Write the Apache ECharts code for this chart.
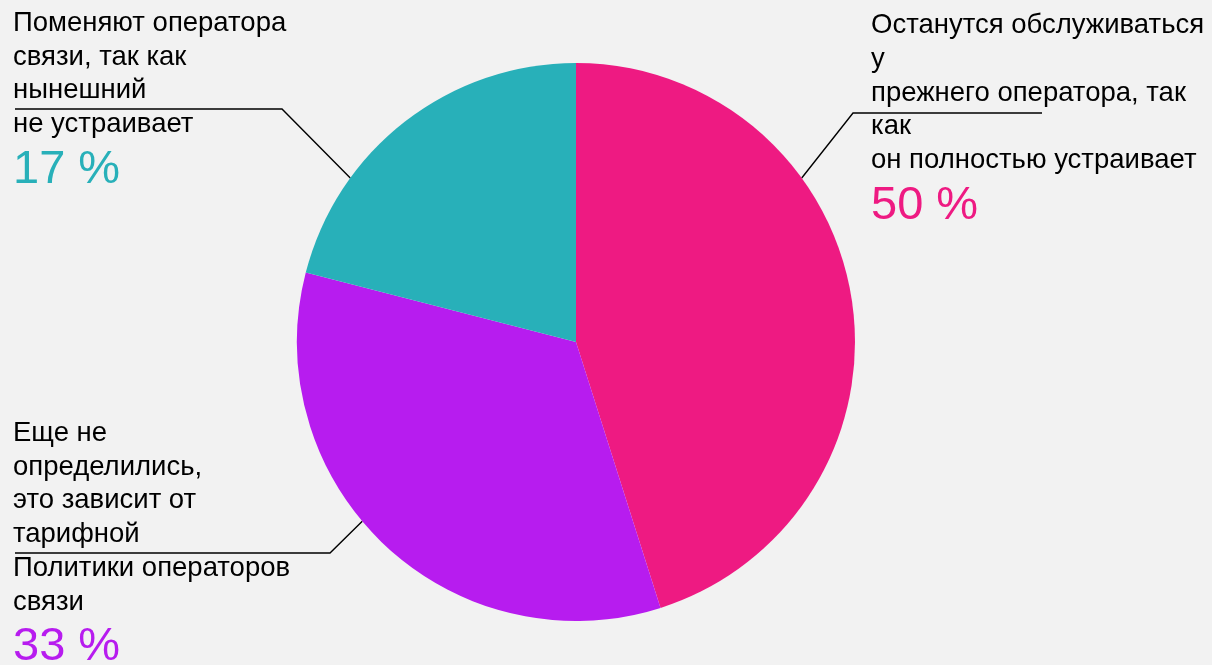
<!DOCTYPE html>
<html>
<head>
<meta charset="utf-8">
<script src="https://cdn.jsdelivr.net/npm/echarts@6/dist/echarts.min.js"></script>
<style>
  html, body { margin: 0; padding: 0; background: #f2f2f2; }
  #chart { width: 1212px; height: 665px; }
</style>
</head>
<body>
<div id="chart"></div>
<script>
// ---- data ----
const categories = [
  'Останутся обслуживаться\nу\nпрежнего оператора, так\nкак\nон полностью устраивает',
  'Еще не\nопределились,\nэто зависит от\nтарифной\nПолитики операторов\nсвязи',
  'Поменяют оператора\nсвязи, так как\nнынешний\nне устраивает'
];
const sliceShares = [45.1, 33.9, 21.0];          // visual size of each slice
const percentLabels = ['50 %', '33 %', '17 %'];   // printed percentages
const sliceColors = ['#ee1a82', '#b71cef', '#28b0b9'];

// ---- label placement (layout, not data) ----
const textPos = [
  { x: 871, y: 8.6 },
  { x: 13, y: 416.3 },
  { x: 13, y: 6.3 }
];
// horizontal leader segment: end x, start x, y, and angle (deg, clockwise from top) where it meets the pie
const leader = [
  { xEnd: 1042, xTurn: 853, y: 113, attach: 54 },
  { xEnd: 15, xTurn: 330, y: 553, attach: 230 },
  { xEnd: 15, xTurn: 282, y: 109, attach: 306 }
];

const FONT = '"Liberation Sans", Arial, sans-serif';
const center = [576, 342];
const radius = 279;

const chart = echarts.init(document.getElementById('chart'), null, { renderer: 'canvas' });

const pieData = categories.map((name, i) => ({
  name: name,
  value: sliceShares[i],
  itemStyle: { color: sliceColors[i] }
}));

const textData = categories.map((name, i) => ({
  name: name,
  value: sliceShares[i],
  label: {
    formatter: '{t|' + name + '}\n{p|' + percentLabels[i] + '}',
    rich: {
      t: { fontFamily: FONT, fontSize: 27.5, lineHeight: 33.75, color: '#000', align: 'left' },
      p: { fontFamily: FONT, fontSize: 47, lineHeight: 56.6, color: sliceColors[i], align: 'left' }
    }
  }
}));

chart.setOption({
  backgroundColor: '#f2f2f2',
  animation: false,
  series: [
    {
      type: 'pie',
      center: center,
      radius: radius,
      startAngle: 90,
      clockwise: true,
      silent: true,
      data: pieData,
      itemStyle: { borderWidth: 0 },
      label: {
        show: true,
        position: 'outside',
        formatter: ' ',
        fontSize: 1,
        color: 'rgba(0,0,0,0)'
      },
      labelLine: {
        show: true,
        lineStyle: { color: '#000', width: 1.4 }
      },
      labelLayout: function (p) {
        const L = leader[p.dataIndex];
        const a = L.attach * Math.PI / 180;
        const arcPt = [center[0] + radius * Math.sin(a), center[1] - radius * Math.cos(a)];
        return {
          x: L.xEnd, y: L.y, verticalAlign: 'middle',
          labelLinePoints: [arcPt, [L.xTurn, L.y], [L.xEnd, L.y]]
        };
      }
    },
    {
      type: 'pie',
      center: center,
      radius: radius,
      startAngle: 90,
      clockwise: true,
      silent: true,
      data: textData,
      itemStyle: { color: 'rgba(0,0,0,0)', borderWidth: 0 },
      label: { show: true, position: 'outside', width: 400, overflow: 'none' },
      labelLine: { show: false },
      labelLayout: function (p) {
        const t = textPos[p.dataIndex];
        return { x: t.x, y: t.y, align: 'left', verticalAlign: 'top' };
      }
    }
  ]
});
</script>
</body>
</html>
